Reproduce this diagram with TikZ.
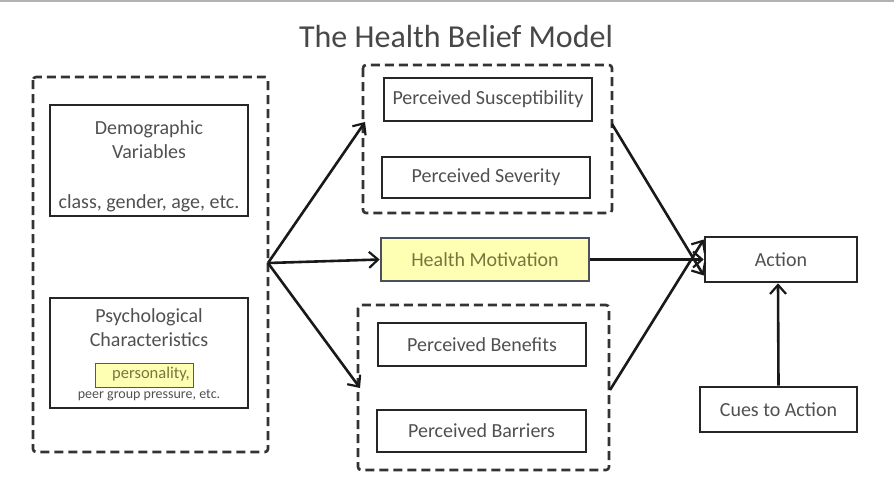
\documentclass[tikz,border=0pt]{standalone}
\usepackage{fontspec}
\setmainfont{Carlito}
\usetikzlibrary{arrows.meta}
\definecolor{txt}{HTML}{505050}
\definecolor{hmfill}{HTML}{FFFFB3}
\definecolor{hmtxt}{HTML}{76763E}
\definecolor{hmborder}{HTML}{4A5060}
\begin{document}
\begin{tikzpicture}[x=1pt,y=-1pt,
  lbl/.style={text=txt,font=\fontsize{20}{24}\selectfont},
  box/.style={draw=black!85,line width=2.6pt,inner sep=0pt,lbl},
  group/.style={draw=black!80,line width=2.6pt,dash pattern=on 9pt off 5pt,rounded corners=3pt},
  arr/.style={line width=2.6pt,draw=black!90,-{Straight Barb[length=9pt,width=16pt,line width=2.2pt]}}]
\useasboundingbox (0,0) rectangle (894,496);
\draw[gray!60,line width=2pt] (0,1) -- (894,1);
\node[font=\fontsize{32}{36}\selectfont,text=black!72] (title) at (456,37) {The Health Belief Model};
% left group
\draw[group] (33,77) rectangle (268,452);
\coordinate (lg) at (268,263);
\node[box,minimum width=198pt,minimum height=111pt] (demo) at (149,160.5) {};
\node[lbl,align=center] (demot) at (149,140) {Demographic\\Variables};
\node[lbl] (demos) at (149,203) {class, gender, age, etc.};
\node[box,minimum width=198pt,minimum height=110pt] (psy) at (149,353) {};
\node[lbl,align=center] (psyt) at (149,328) {Psychological\\Characteristics};
\node[draw=blue!40!gray,fill=hmfill,line width=0.8pt,minimum width=98pt,minimum height=24pt,inner sep=0pt] (pers) at (144,375) {};
\node[text=hmtxt,font=\fontsize{16.5}{18}\selectfont] (perst) at (151,374) {personality,};
\node[text=txt,font=\fontsize{14}{16}\selectfont] (peer) at (149,395) {peer group pressure, etc.};
% top group
\draw[group] (363,65) rectangle (612,213);
\coordinate (tgl) at (365,122);
\coordinate (tgr) at (612,124);
\node[box,minimum width=208pt,minimum height=43pt] (ps) at (488,99.5) {Perceived Susceptibility};
\node[box,minimum width=208pt,minimum height=41pt] (psev) at (486,177.5) {Perceived Severity};
% health motivation
\node[box,draw=hmborder,fill=hmfill,text=hmtxt,minimum width=208pt,minimum height=43pt] (hm) at (485,259.5) {Health Motivation};
% bottom group
\draw[group] (358,305) rectangle (609,470);
\coordinate (bgl) at (360,388);
\coordinate (bgr) at (610,390);
\node[box,minimum width=208pt,minimum height=43pt] (ben) at (482,344.5) {Perceived Benefits};
\node[box,minimum width=209pt,minimum height=42pt] (bar) at (481.5,431) {Perceived Barriers};
% action
\node[box,minimum width=152pt,minimum height=45pt] (act) at (781,259.5) {Action};
\node[box,minimum width=157pt,minimum height=45pt] (cue) at (778.5,409.5) {Cues to Action};
% arrows
\draw[arr] (lg) -- (tgl);
\draw[arr] (lg) -- (hm.west);
\draw[arr] (lg) -- (bgl);
\draw[arr] (tgr) -- ([yshift=-16pt]act.west);
\draw[arr] (hm.east) -- (act.west);
\draw[arr] (bgr) -- ([yshift=20pt]act.west);
\draw[arr] (cue.north) -- ([xshift=-3pt]act.south);
\end{tikzpicture}
\end{document}
